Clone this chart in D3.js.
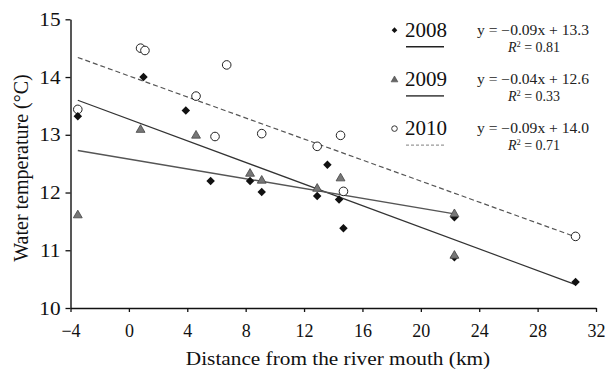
<!DOCTYPE html>
<html>
<head>
<meta charset="utf-8">
<script src="https://cdn.jsdelivr.net/npm/d3@7"></script>
<style>
  html, body { margin: 0; padding: 0; background: #fff; }
  svg { display: block; font-family: "Liberation Serif", "Times New Roman", serif; }
</style>
</head>
<body>
<svg id="chart" width="609" height="370"></svg>
<script>
// Water temperature vs. distance from the river mouth, three survey years
const years = ["2008", "2009", "2010"];

const dist2008 = [-3.5, 1.0, 3.9, 5.6, 8.3, 9.1, 12.9, 13.6, 14.4, 14.7, 22.3, 22.3, 30.6];
const temp2008 = [13.32, 14.0, 13.42, 12.2, 12.2, 12.01, 11.94, 12.48, 11.88, 11.38, 11.57, 10.88, 10.45];

const dist2009 = [-3.5, 0.8, 4.6, 8.3, 9.1, 12.9, 14.5, 22.3, 22.3];
const temp2009 = [11.62, 13.1, 13.0, 12.34, 12.22, 12.08, 12.26, 11.64, 10.92];

const dist2010 = [-3.5, 0.8, 1.1, 4.6, 5.9, 6.7, 9.1, 12.9, 14.5, 14.7, 30.6];
const temp2010 = [13.44, 14.5, 14.46, 13.67, 12.97, 14.21, 13.02, 12.8, 12.99, 12.02, 11.24];

// Linear fits (y = slope * x + intercept) and their coefficients of determination
const slopes = [-0.0936, -0.0426, -0.0911];
const intercepts = [13.27, 12.58, 14.02];
const rSquared = [0.81, 0.33, 0.71];
const fitStart = [-3.5, -3.5, -3.5];
const fitEnd = [30.6, 22.3, 30.6];

const xTicks = [-4, 0, 4, 8, 12, 16, 20, 24, 28, 32];
const yTicks = [10, 11, 12, 13, 14, 15];

const xTitle = "Distance from the river mouth (km)";
const yTitle = "Water temperature (\u00B0C)";

const svg = d3.select("#chart");

const x = d3.scaleLinear().domain([-4, 32]).range([70.5, 596]);
const y = d3.scaleLinear().domain([10, 15]).range([308, 19.3]);

// stretch text horizontally by factor k
function widen(sel, k) {
  sel.each(function () {
    const w = this.getComputedTextLength();
    d3.select(this).attr("textLength", w * k).attr("lengthAdjust", "spacingAndGlyphs");
  });
}

const intFmt = d3.format("d");

// Axes
const xAxis = svg.append("g")
  .attr("transform", `translate(0,${y(10)})`)
  .call(d3.axisBottom(x).tickValues(xTicks).tickFormat(intFmt)
    .tickSize(4).tickSizeOuter(0).tickPadding(12));
const yAxis = svg.append("g")
  .attr("transform", `translate(${x(-4)},0)`)
  .call(d3.axisLeft(y).tickValues(yTicks).tickFormat(intFmt)
    .tickSize(5).tickSizeOuter(0).tickPadding(5));

[xAxis, yAxis].forEach(g => {
  g.select(".domain").attr("stroke", "#111").attr("stroke-width", 1.4);
  g.selectAll(".tick line").attr("stroke", "#111").attr("stroke-width", 1.3);
  g.selectAll(".tick text").attr("fill", "#111").attr("font-family", "Liberation Serif");
});
xAxis.selectAll(".tick text").attr("font-size", 18);
yAxis.selectAll(".tick text").attr("font-size", 19).call(widen, 1.12);

// Axis titles
svg.append("text")
  .attr("x", 338).attr("y", 365)
  .attr("text-anchor", "middle")
  .attr("font-size", 19).attr("fill", "#111")
  .text(xTitle)
  .call(widen, 1.12);

svg.append("text")
  .attr("transform", "translate(28,168) rotate(-90)")
  .attr("text-anchor", "middle")
  .attr("font-size", 20).attr("fill", "#111")
  .text(yTitle);

// Regression lines
const fitStyles = [
  { stroke: "#333", width: 1.2, dash: null },
  { stroke: "#555", width: 1.5, dash: null },
  { stroke: "#555", width: 1.2, dash: "5,3" }
];
const fits = years.map((yr, i) => ({
  x1: fitStart[i], x2: fitEnd[i],
  y1: slopes[i] * fitStart[i] + intercepts[i],
  y2: slopes[i] * fitEnd[i] + intercepts[i],
  style: fitStyles[i]
}));
svg.append("g").selectAll("line").data(fits).join("line")
  .attr("x1", d => x(d.x1)).attr("y1", d => y(d.y1))
  .attr("x2", d => x(d.x2)).attr("y2", d => y(d.y2))
  .attr("stroke", d => d.style.stroke)
  .attr("stroke-width", d => d.style.width)
  .attr("stroke-dasharray", d => d.style.dash);

// Markers: diamonds are squares turned by 45 degrees
const diamond = d3.symbol().type(d3.symbolSquare).size(36);
const triangle = d3.symbol().type(d3.symbolTriangle).size(34);

const pts2008 = dist2008.map((d, i) => [d, temp2008[i]]);
const pts2009 = dist2009.map((d, i) => [d, temp2009[i]]);
const pts2010 = dist2010.map((d, i) => [d, temp2010[i]]);

svg.append("g").selectAll("circle").data(pts2010).join("circle")
  .attr("cx", d => x(d[0])).attr("cy", d => y(d[1])).attr("r", 4.3)
  .attr("fill", "#fff").attr("stroke", "#222").attr("stroke-width", 1);

svg.append("g").selectAll("path").data(pts2008).join("path")
  .attr("transform", d => `translate(${x(d[0])},${y(d[1])}) rotate(45)`)
  .attr("d", diamond).attr("fill", "#111");

svg.append("g").selectAll("path").data(pts2009).join("path")
  .attr("transform", d => `translate(${x(d[0])},${y(d[1]) + 0.8})`)
  .attr("d", triangle).attr("fill", "#777").attr("stroke", "#444").attr("stroke-width", 0.8);

// Legend
const legend = svg.append("g");
const rowBase = 36.7, rowGap = 49.2;
const legendLine = [
  { stroke: "#222", width: 1.5, dash: null },
  { stroke: "#555", width: 1.8, dash: null },
  { stroke: "#999", width: 1.3, dash: "3,2" }
];
const fmtSlope = d3.format(".2f");

years.forEach((yr, i) => {
  const by = rowBase + i * rowGap;
  const row = legend.append("g");
  const mx = 394.5, my = by - 6.5;
  if (i === 0) {
    row.append("path").attr("transform", `translate(${mx},${my}) rotate(45)`)
      .attr("d", d3.symbol().type(d3.symbolSquare).size(16)).attr("fill", "#111");
  } else if (i === 1) {
    row.append("path").attr("transform", `translate(${mx},${my + 0.5})`)
      .attr("d", d3.symbol().type(d3.symbolTriangle).size(20))
      .attr("fill", "#666").attr("stroke", "#444").attr("stroke-width", 0.6);
  } else {
    row.append("circle").attr("cx", mx).attr("cy", my).attr("r", 2.8)
      .attr("fill", "#fff").attr("stroke", "#333").attr("stroke-width", 1);
  }
  row.append("text")
    .attr("x", 405).attr("y", by)
    .attr("font-size", 21).attr("fill", "#111")
    .text(yr);
  row.append("line")
    .attr("x1", 406).attr("x2", 444)
    .attr("y1", by + 10).attr("y2", by + 10)
    .attr("stroke", legendLine[i].stroke)
    .attr("stroke-width", legendLine[i].width)
    .attr("stroke-dasharray", legendLine[i].dash);

  const sign = slopes[i] < 0 ? "\u2212" : "";
  row.append("text")
    .attr("x", 533).attr("y", by - 1.8)
    .attr("text-anchor", "middle")
    .attr("font-size", 14).attr("fill", "#222")
    .attr("textLength", 112).attr("lengthAdjust", "spacingAndGlyphs")
    .text(`y = ${sign}${fmtSlope(Math.abs(slopes[i]))}x + ${intercepts[i].toFixed(1)}`);

  const r2 = row.append("text")
    .attr("x", 534).attr("y", by + 15.3)
    .attr("text-anchor", "middle")
    .attr("font-size", 14).attr("fill", "#222");
  r2.append("tspan").attr("font-style", "italic").text("R");
  r2.append("tspan").attr("font-size", 8.5).attr("dy", -5).text("2");
  r2.append("tspan").attr("dy", 5).text(` = ${rSquared[i].toFixed(2)}`);
});
</script>
</body>
</html>
